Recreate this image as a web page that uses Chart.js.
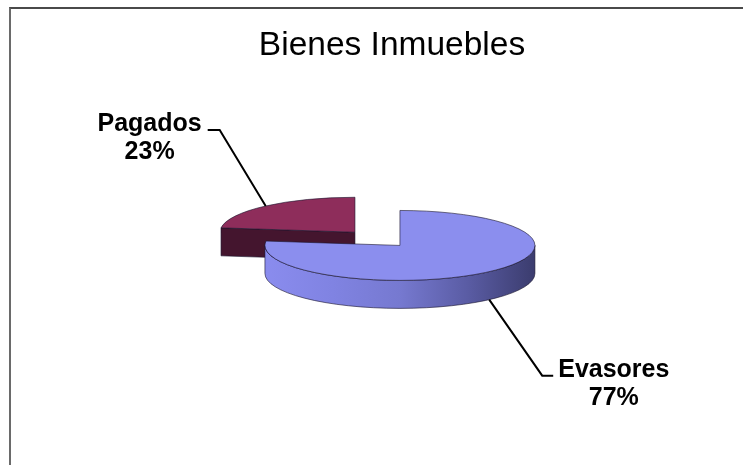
<!DOCTYPE html>
<html>
<head>
<meta charset="utf-8">
<title>Bienes Inmuebles</title>
<script src="https://cdn.jsdelivr.net/npm/chart.js@4.4.0/dist/chart.umd.min.js"></script>
<style>
  html, body { margin: 0; padding: 0; background: #fff; }
  #wrap { position: relative; width: 743px; height: 465px; overflow: hidden; }
  #frame { position: absolute; left: 9px; top: 7px; right: -4px; bottom: -4px;
           border-top: 2px solid #4a4a4a; border-left: 2px solid #6a6a6a; }
  canvas { position: absolute; left: 0; top: 0; }
</style>
</head>
<body>
<div id="wrap"><div id="frame"></div><canvas id="bienes" width="743" height="465"></canvas></div>
<script>
// Bienes Inmuebles
var labels = ['Evasores', 'Pagados'];
var values = [77, 23];

// fake 3D pie: flatten the top faces and add the side walls by hand
var pie3d = {
    id: 'pie3d',
    beforeDatasetsDraw: function (chart, args, opts) {
        var ctx = chart.ctx;
        var arcs = chart.getDatasetMeta(0).data;
        var k = opts.tilt, d = opts.depth;
        var total = values.reduce(function (a, b) { return a + b; }, 0);

        var items = arcs.map(function (el, i) {
            var mid = (el.startAngle + el.endAngle) / 2;
            var off = opts.explode[i] || 0;
            return {
                el: el, i: i, mid: mid, R: el.outerRadius,
                X: el.x + Math.cos(mid) * off,
                Y: el.y + Math.sin(mid) * off * k
            };
        });

        items.slice().sort(function (a, b) { return a.Y - b.Y; }).forEach(function (it) {
            var el = it.el, s = el.startAngle, e = el.endAngle;
            var X = it.X, Y = it.Y, R = it.R, ry = R * k;
            var side = opts.sides[it.i];
            ctx.save();
            ctx.lineWidth = 1;
            ctx.strokeStyle = opts.edgeColor;

            // cut faces
            [[s, Math.cos(s) < 0], [e, Math.cos(e) > 0]].forEach(function (w) {
                if (!w[1]) return;
                var px = X + R * Math.cos(w[0]), py = Y + ry * Math.sin(w[0]);
                ctx.beginPath();
                ctx.moveTo(X, Y);
                ctx.lineTo(px, py);
                ctx.lineTo(px, py + d);
                ctx.lineTo(X, Y + d);
                ctx.closePath();
                ctx.fillStyle = side.flat;
                ctx.fill();
                ctx.stroke();
            });

            // rim, front half only
            for (var n = -1; n <= 2; n++) {
                var lo = Math.max(s, 2 * Math.PI * n);
                var hi = Math.min(e, Math.PI + 2 * Math.PI * n);
                if (hi <= lo) continue;
                var g = ctx.createLinearGradient(X - R, 0, X + R, 0);
                side.stops.forEach(function (c, j, arr) { g.addColorStop(j / (arr.length - 1), c); });
                ctx.beginPath();
                ctx.ellipse(X, Y, R, ry, 0, lo, hi, false);
                ctx.lineTo(X + R * Math.cos(hi), Y + ry * Math.sin(hi) + d);
                ctx.ellipse(X, Y + d, R, ry, 0, hi, lo, true);
                ctx.closePath();
                ctx.fillStyle = g;
                ctx.fill();
                ctx.stroke();
            }

            // top face from the arc element itself
            ctx.save();
            ctx.translate(X, Y);
            ctx.scale(1, k);
            ctx.translate(-el.x, -el.y);
            el.draw(ctx);
            ctx.restore();
            ctx.beginPath();
            ctx.moveTo(X, Y);
            ctx.ellipse(X, Y, R, ry, 0, s, e, false);
            ctx.closePath();
            ctx.stroke();
            ctx.restore();
        });

        // leader lines + labels
        ctx.save();
        ctx.font = opts.font;
        ctx.fillStyle = '#000';
        ctx.strokeStyle = '#000';
        ctx.lineWidth = 2;
        ctx.textAlign = 'center';
        ctx.textBaseline = 'alphabetic';
        items.forEach(function (it) {
            var ld = opts.leaders[it.i];
            var ry = it.R * k;
            var sx = it.X + it.R * Math.cos(it.mid);
            var sy = it.Y + ry * Math.sin(it.mid) + (Math.sin(it.mid) > 0 ? d : 0);
            var ex = sx + ld.dx, ey = sy + ld.dy, tx = ex + ld.tail;
            ctx.beginPath();
            ctx.moveTo(sx, sy);
            ctx.lineTo(ex, ey);
            ctx.lineTo(tx, ey);
            ctx.stroke();
            var lines = [labels[it.i], Math.round(values[it.i] / total * 100) + '%'];
            var w = Math.max.apply(null, lines.map(function (t) { return ctx.measureText(t).width; }));
            var cx = tx + (ld.tail < 0 ? -1 : 1) * (ld.gap + w / 2);
            lines.forEach(function (t, j) { ctx.fillText(t, cx, ey + 1 + j * 28); });
        });
        ctx.restore();
        return false;
    }
};

var ctx = document.getElementById('bienes').getContext('2d');
var chart = new Chart(ctx, {
    type: 'pie',
    data: {
        labels: labels,
        datasets: [{
            data: values,
            backgroundColor: ['#8b8eee', '#8e2d5b'],
            borderWidth: 0
        }]
    },
    plugins: [pie3d],
    options: {
        responsive: false,
        animation: false,
        events: [],
        radius: 135,
        rotation: 0,
        layout: { padding: { left: 41, right: 0, top: 0, bottom: 45 } },
        plugins: {
            legend: { display: false },
            tooltip: { enabled: false },
            title: {
                display: true,
                text: 'Bienes Inmuebles',
                color: '#000',
                font: { family: "'Liberation Sans', Arial, sans-serif", size: 33.5, weight: 'normal', lineHeight: 1.2 },
                padding: { top: 26, bottom: 0 }
            },
            pie3d: {
                tilt: 0.259,
                depth: 28,
                explode: [12, 56],
                edgeColor: 'rgba(25,20,45,0.6)',
                sides: [
                    { flat: '#3b3c6e', stops: ['#8a8cee', '#8083e2', '#7679d0', '#5a5ca4', '#3b3c6e'] },
                    { flat: '#44152e', stops: ['#5a1c3c', '#3a1026'] }
                ],
                leaders: [
                    { dx: 53, dy: 76, tail: 11, gap: 5 },
                    { dx: -46, dy: -76, tail: -12, gap: 6 }
                ],
                font: "bold 25px 'Liberation Sans', Arial, sans-serif"
            }
        }
    }
});
</script>
</body>
</html>
